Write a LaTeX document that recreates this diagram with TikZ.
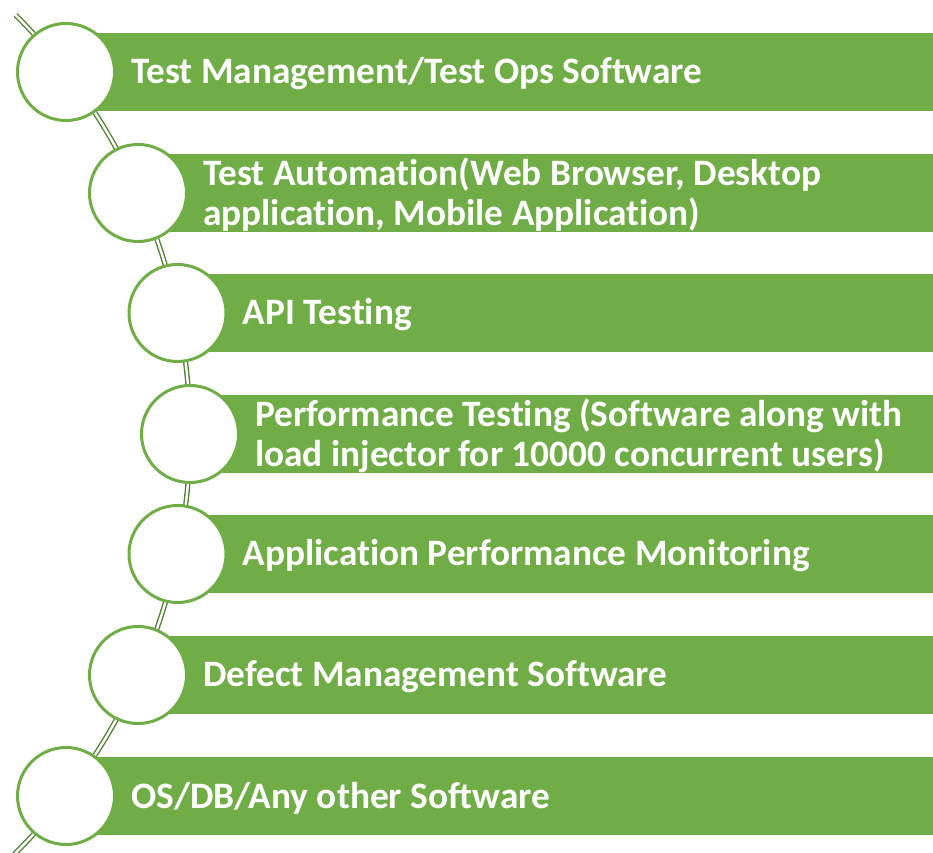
\documentclass[tikz,border=0pt]{standalone}
\usepackage{fontspec}
\setmainfont[Ligatures=NoCommon]{Carlito}
\usepackage{xcolor}
\definecolor{leafgreen}{HTML}{70AD47}
\definecolor{stemgreen}{HTML}{548235}

\begin{document}
\begin{tikzpicture}[x=1pt, y=1pt,
		bar/.style={fill=leafgreen, draw=none, anchor=west, minimum height=78pt, inner sep=0pt},
		dot/.style={circle, draw=leafgreen, line width=3pt, fill=white, minimum size=97pt, inner sep=0pt},
		txt/.style={anchor=west, text=white, align=left, inner sep=0pt, yshift=-2pt, font=\fontsize{37.3}{40}\selectfont\bfseries},
		spine/.style={draw=stemgreen, line width=1.4pt, double=white, double distance=2.4pt}]
				\useasboundingbox (0,0) rectangle (933,852);
				% Stem behind the circles:
				\coordinate (hub) at (-400.4, 418);
				\coordinate (top) at ([shift={(45.2:590.4)}]hub);
				\draw[spine] (top) arc[start angle=45.2, end angle=-45.4, radius=590.4];
				% Bars:
				\node[bar, minimum width=867pt] (b1) at (66, 780){};
				\node[bar, minimum width=795pt] (b2) at (138, 659){};
				\node[bar, minimum width=755.5pt] (b3) at (177.5, 539){};
				\node[bar, minimum width=743pt] (b4) at (190, 418){};
				\node[bar, minimum width=755.5pt] (b5) at (177.5, 298){};
				\node[bar, minimum width=795pt] (b6) at (138, 177){};
				\node[bar, minimum width=867pt] (b7) at (66, 56){};
				% Circles:
				\node[dot] (c1) at (b1.west){};
				\node[dot] (c2) at (b2.west){};
				\node[dot] (c3) at (b3.west){};
				\node[dot] (c4) at (b4.west){};
				\node[dot] (c5) at (b5.west){};
				\node[dot] (c6) at (b6.west){};
				\node[dot] (c7) at (b7.west){};
				% Labels:
				\node[txt] (t1) at ([xshift=65]c1.center){Test Management/Test Ops Software};
				\node[txt] (t2) at ([xshift=65]c2.center){Test Automation(Web Browser, Desktop\\application, Mobile Application)};
				\node[txt] (t3) at ([xshift=65]c3.center){API Testing};
				\node[txt] (t4) at ([xshift=65]c4.center){Performance Testing (Software along with\\load injector for 10000 concurrent users)};
				\node[txt] (t5) at ([xshift=65]c5.center){Application Performance Monitoring};
				\node[txt] (t6) at ([xshift=65]c6.center){Defect Management Software};
				\node[txt] (t7) at ([xshift=65]c7.center){OS/DB/Any other Software};
			\end{tikzpicture}
\end{document}
